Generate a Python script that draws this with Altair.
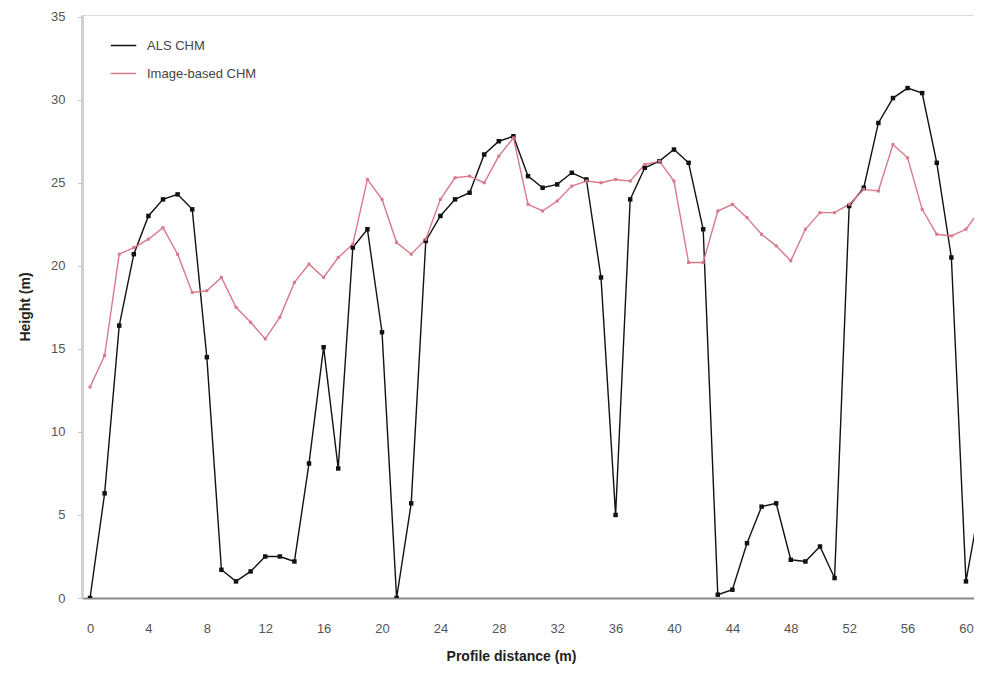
import altair as alt
import pandas as pd

distance = list(range(0, 62))

als_chm = [0.0, 6.3, 16.4, 20.7, 23.0, 24.0, 24.3, 23.4, 14.5, 1.7,
           1.0, 1.6, 2.5, 2.5, 2.2, 8.1, 15.1, 7.8, 21.1, 22.2,
           16.0, 0.0, 5.7, 21.5, 23.0, 24.0, 24.4, 26.7, 27.5, 27.8,
           25.4, 24.7, 24.9, 25.6, 25.2, 19.3, 5.0, 24.0, 25.9, 26.3,
           27.0, 26.2, 22.2, 0.2, 0.5, 3.3, 5.5, 5.7, 2.3, 2.2,
           3.1, 1.2, 23.6, 24.7, 28.6, 30.1, 30.7, 30.4, 26.2, 20.5,
           1.0, 5.9]

image_chm = [12.7, 14.6, 20.7, 21.1, 21.6, 22.3, 20.7, 18.4, 18.5, 19.3,
             17.5, 16.6, 15.6, 16.9, 19.0, 20.1, 19.3, 20.5, 21.3, 25.2,
             24.0, 21.4, 20.7, 21.6, 24.0, 25.3, 25.4, 25.0, 26.6, 27.7,
             23.7, 23.3, 23.9, 24.8, 25.1, 25.0, 25.2, 25.1, 26.1, 26.3,
             25.1, 20.2, 20.2, 23.3, 23.7, 22.9, 21.9, 21.2, 20.3, 22.2,
             23.2, 23.2, 23.7, 24.6, 24.5, 27.3, 26.5, 23.4, 21.9, 21.8,
             22.2, 23.4]

series_names = ["ALS CHM", "Image-based CHM"]
series_colors = ["#111111", "#d8788a"]
point_sizes = [20, 9]
x_ticks = list(range(0, 61, 4))
y_ticks = list(range(0, 36, 5))

rows = []
for name, vals in zip(series_names, [als_chm, image_chm]):
    for d, v in zip(distance, vals):
        rows.append({"distance": d, "height": v, "series": name})
df = pd.DataFrame(rows)

font = "Liberation Sans"

x_enc = alt.X("distance:Q",
              scale=alt.Scale(domain=[-0.55, 60.55], nice=False, zero=False),
              axis=alt.Axis(values=x_ticks, title="Profile distance (m)",
                            grid=False, ticks=False, labelPadding=24,
                            domainColor="#888", domainWidth=2,
                            labelColor="#555", labelFontSize=13,
                            titleFontSize=14, titleFontWeight="bold",
                            titleColor="#222", titlePadding=14,
                            titleAlign="center", titleX=429))
y_enc = alt.Y("height:Q",
              scale=alt.Scale(domain=[0, 35.1], nice=False),
              axis=alt.Axis(values=y_ticks, title="Height (m)", grid=False,
                            tickSize=4, tickColor="#bbb", labelPadding=13,
                            domainColor="#d0d0d0", domainWidth=3,
                            labelColor="#555", labelFontSize=13,
                            titleFontSize=14, titleFontWeight="bold",
                            titleColor="#222", titlePadding=18))
color_enc = alt.Color("series:N",
                      scale=alt.Scale(domain=series_names, range=series_colors),
                      legend=alt.Legend(title=None, orient="none",
                                        legendX=28, legendY=17,
                                        symbolType="stroke", symbolSize=650,
                                        symbolStrokeWidth=1.5,
                                        labelFontSize=13, labelColor="#444",
                                        rowPadding=7, labelOffset=10))

lines = alt.Chart(df).mark_line(strokeWidth=1.4, clip=True).encode(
    x=x_enc, y=y_enc, color=color_enc, detail="series:N")

point_layers = []
for name, col, sz in zip(series_names, series_colors, point_sizes):
    point_layers.append(
        alt.Chart(df).transform_filter(alt.datum.series == name)
        .mark_point(shape="square", filled=True, opacity=1, clip=True,
                    color=col, size=sz)
        .encode(x="distance:Q", y="height:Q")
    )

chart = alt.layer(lines, *point_layers).properties(
    width=892, height=583,
    autosize=alt.AutoSizeParams(type="none"),
    padding={"left": 74, "top": 7, "right": 0, "bottom": 66},
    background="white",
).configure_view(stroke="#b5b5b5", strokeWidth=2).configure(
    font=font)

chart.save("out.html", embed_options={"renderer": "svg", "actions": False})
